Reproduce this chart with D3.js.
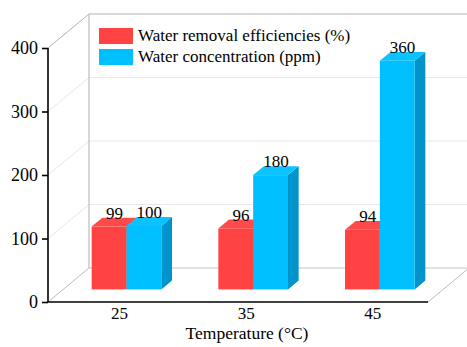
<!DOCTYPE html>
<html>
<head>
<meta charset="utf-8">
<script src="https://cdn.jsdelivr.net/npm/d3@7/dist/d3.min.js"></script>
<style>
  html, body { margin: 0; padding: 0; background: #fff; }
</style>
</head>
<body>
<svg id="chart" width="467" height="347"></svg>
<script>
// Temperatures on the x axis
const categories = ["25", "35", "45"];
// Series names and values
const seriesNames = ["Water removal efficiencies (%)", "Water concentration (ppm)"];
const removalEfficiency = [99, 96, 94];
const waterConcentration = [100, 180, 360];
const yTicks = [0, 100, 200, 300, 400];
const xTitle = "Temperature (°C)";

const FONT = "Liberation Serif";

const colors = [
  { front: "#ff4242", top: "#ff4a4a", side: "#d83030" },
  { front: "#00bfff", top: "#0cc3ff", side: "#0093cc" }
];

const svg = d3.select("#chart");

// Front plane
const left = 48, right = 428, y0 = 302, yTop = 48;
// Depth projection of the box
const DX = 41, DY = -34;
// Bars sit in the middle slice of the depth
const f0 = 0.37, f1 = 0.63;

const y = d3.scaleLinear().domain([0, 400]).range([y0, yTop]);
const x = d3.scaleBand().domain(categories).range([left, right])
  .paddingInner(0.45).paddingOuter(0.225);
const xs = d3.scaleBand().domain(d3.range(seriesNames.length)).range([0, x.bandwidth()]);

const walls = svg.append("g");
// Back wall gridlines and side wall diagonals
yTicks.forEach(t => {
  const gy = y(t) + DY;
  const strong = (t === 400 || t === 0);
  walls.append("line")
    .attr("x1", left + DX).attr("x2", 470)
    .attr("y1", gy).attr("y2", gy)
    .attr("stroke", t === 400 ? "#b4b4b4" : (t === 0 ? "#c4c4c4" : "#e8e8e8"))
    .attr("stroke-width", strong ? 1.2 : 1);
  walls.append("line")
    .attr("x1", left).attr("y1", y(t))
    .attr("x2", left + DX).attr("y2", y(t) + DY)
    .attr("stroke", t === 400 ? "#b4b4b4" : (t === 0 ? "#bcbcbc" : "#e8e8e8"))
    .attr("stroke-width", 1);
});
// Back wall left edge
walls.append("line")
  .attr("x1", left + DX).attr("x2", left + DX)
  .attr("y1", y(400) + DY).attr("y2", y(0) + DY)
  .attr("stroke", "#bcbcbc").attr("stroke-width", 1.2);
// Floor right edge
walls.append("line")
  .attr("x1", right).attr("y1", y(0))
  .attr("x2", right + DX).attr("y2", y(0) + DY)
  .attr("stroke", "#bcbcbc").attr("stroke-width", 1);

// Legend
const legend = svg.append("g");
seriesNames.forEach((name, i) => {
  const ly = 28 + i * 21;
  legend.append("rect")
    .attr("x", 99).attr("y", ly).attr("width", 34).attr("height", 16)
    .attr("fill", colors[i].front);
  legend.append("text")
    .attr("x", 138).attr("y", ly + 13)
    .attr("font-family", FONT)
    .attr("font-size", 17).attr("fill", "#000")
    .text(name);
});

// Bars
const seriesValues = [removalEfficiency, waterConcentration];
const bars = svg.append("g");
categories.forEach((cat, ci) => {
  seriesValues.forEach((vals, si) => {
    const v = vals[ci];
    const bx = x(cat) + xs(si);
    const bw = xs.bandwidth();
    const ox0 = f0 * DX, oy0 = f0 * DY;
    const ox1 = f1 * DX, oy1 = f1 * DY;
    const xl = bx + ox0, xr = bx + bw + ox0;
    const yt = y(v) + oy0, yb = y(0) + oy0;
    const ddx = ox1 - ox0, ddy = oy1 - oy0;
    const c = colors[si];
    // side face
    bars.append("polygon")
      .attr("points", [[xr, yt], [xr + ddx, yt + ddy], [xr + ddx, yb + ddy], [xr, yb]].join(" "))
      .attr("fill", c.side);
    // top face
    bars.append("polygon")
      .attr("points", [[xl, yt], [xl + ddx, yt + ddy], [xr + ddx, yt + ddy], [xr, yt]].join(" "))
      .attr("fill", c.top);
    // front face
    bars.append("rect")
      .attr("x", xl).attr("y", yt).attr("width", bw).attr("height", yb - yt)
      .attr("fill", c.front);
    // value label
    bars.append("text")
      .attr("x", (xl + xr) / 2 + ddx / 2)
      .attr("y", yt + ddy + 1)
      .attr("text-anchor", "middle")
      .attr("font-family", FONT)
      .attr("font-size", 17).attr("fill", "#000")
      .text(v);
  });
});

// Y axis
const yAxis = svg.append("g").attr("transform", `translate(${left},0)`)
  .call(d3.axisLeft(y).tickValues(yTicks).tickSize(6).tickPadding(4));
yAxis.attr("font-family", FONT);
yAxis.select(".domain").attr("stroke", "#000").attr("stroke-width", 1.6)
  .attr("d", `M0,${y(400)}V${y(0)}`);
yAxis.selectAll(".tick line").attr("stroke", "#000").attr("stroke-width", 1.6);
yAxis.selectAll(".tick text")
  .attr("font-family", FONT)
  .attr("font-size", 18).attr("fill", "#000");

// X axis baseline
svg.append("line")
  .attr("x1", left).attr("x2", right)
  .attr("y1", y(0)).attr("y2", y(0))
  .attr("stroke", "#000").attr("stroke-width", 1.6);

// Category labels
svg.append("g").selectAll("text").data(categories).join("text")
  .attr("x", d => x(d) + x.bandwidth() / 2 + 0.2 * DX)
  .attr("y", 319)
  .attr("text-anchor", "middle")
  .attr("font-family", FONT)
  .attr("font-size", 17).attr("fill", "#000")
  .text(d => d);

// Axis title
svg.append("text")
  .attr("x", 247).attr("y", 339)
  .attr("text-anchor", "middle")
  .attr("font-family", FONT)
  .attr("font-size", 17.5).attr("fill", "#000")
  .text(xTitle);
</script>
</body>
</html>
